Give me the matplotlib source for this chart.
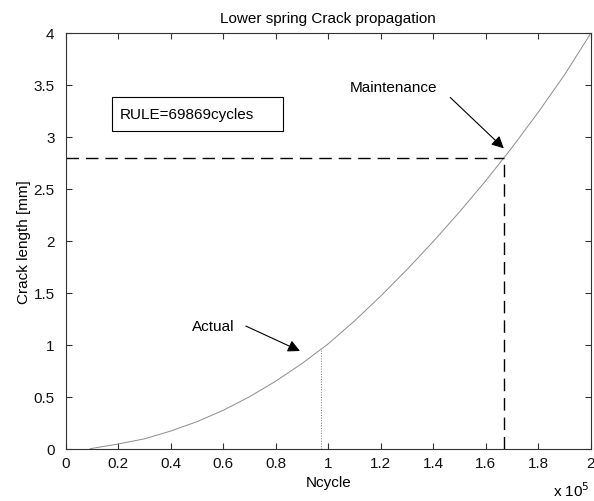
import matplotlib
matplotlib.use("Agg")
import matplotlib.pyplot as plt
from matplotlib.patches import Rectangle

plt.rcParams['font.family'] = ['Liberation Sans', 'DejaVu Sans']

# Data (x in units of 1e5 cycles)
ncycle = [0.093, 0.2, 0.3, 0.4, 0.5, 0.6, 0.7, 0.8, 0.9, 1.0, 1.1, 1.2,
          1.3, 1.4, 1.5, 1.6, 1.7, 1.8, 1.9, 2.0]
crack = [0.0, 0.045, 0.095, 0.17, 0.26, 0.37, 0.50, 0.65, 0.82, 1.01, 1.23,
         1.47, 1.725, 1.995, 2.28, 2.58, 2.90, 3.24, 3.60, 4.0]
actual_x, actual_y = 0.971, 0.955
maint_x, maint_y = 1.668, 2.80
rule_text = "RULE=69869cycles"
xticks = [0, 0.2, 0.4, 0.6, 0.8, 1, 1.2, 1.4, 1.6, 1.8, 2]
xticklabels = ["0", "0.2", "0.4", "0.6", "0.8", "1", "1.2", "1.4", "1.6", "1.8", "2"]
yticks = [0, 0.5, 1, 1.5, 2, 2.5, 3, 3.5, 4]
yticklabels = ["0", "0.5", "1", "1.5", "2", "2.5", "3", "3.5", "4"]

FS = 11

fig = plt.figure(figsize=(5.94, 5.02), dpi=100)
ax = fig.add_axes([0.1106, 0.1042, 0.8843, 0.8281])

ax.plot(ncycle, crack, color='#8c8c8c', lw=0.7)
ax.plot([0, maint_x], [maint_y, maint_y], color='black', lw=1.0, dashes=(9, 5))
ax.plot([maint_x, maint_x], [0, maint_y], color='black', lw=1.0, dashes=(9, 5))
ax.plot([actual_x, actual_x], [0, actual_y], color='#777777', lw=0.7, ls=':')

arrow = dict(arrowstyle='-|>', color='black', lw=0.8, mutation_scale=18,
             shrinkA=0, shrinkB=0)
ax.annotate('', xy=(maint_x, 2.89), xytext=(1.464, 3.38), arrowprops=arrow)
ax.text(1.083, 3.48, 'Maintenance', fontsize=FS, va='center', ha='left')
ax.annotate('', xy=(0.892, 0.94), xytext=(0.686, 1.18), arrowprops=arrow)
ax.text(0.48, 1.18, 'Actual', fontsize=FS, va='center', ha='left')

ax.add_patch(Rectangle((0.176, 3.06), 0.651, 0.325, fc='white', ec='black',
                       lw=0.8, zorder=3))
ax.text(0.207, 3.225, rule_text, fontsize=FS, va='center', ha='left', zorder=4)

ax.set_xlim(0, 2)
ax.set_ylim(0, 4)
ax.set_xticks(xticks)
ax.set_xticklabels(xticklabels)
ax.set_yticks(yticks)
ax.set_yticklabels(yticklabels)
ax.tick_params(direction='in', top=True, right=True, labelsize=FS, length=4.5,
               width=0.8, colors='#333333', labelcolor='#111111')
ax.tick_params(axis='y', pad=8)
ax.tick_params(axis='x', pad=5)
for s in ax.spines.values():
    s.set_linewidth(0.8)
    s.set_color('#333333')

ax.set_title('Lower spring Crack propagation', fontsize=FS, pad=8)
ax.set_xlabel('Ncycle', fontsize=FS, labelpad=4)
ax.set_ylabel('Crack length [mm]', fontsize=FS)
ax.yaxis.set_label_coords(-0.067, 0.5)
fig.text(0.931, 0.003, r'x 10$^{5}$', fontsize=FS, ha='left', va='bottom')

fig.savefig('out.png', dpi=100)
